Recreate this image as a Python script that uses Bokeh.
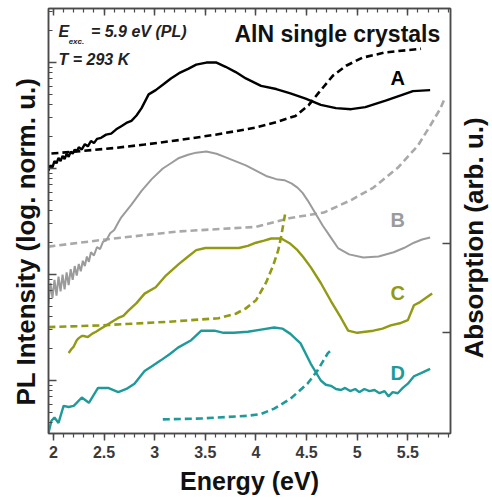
import numpy as np
from bokeh.plotting import figure
from bokeh.layouts import row
from bokeh.models import (Range1d, LinearAxis, FixedTicker, SingleIntervalTicker, Title,
                          LogTicker, ColumnDataSource, LinearScale, CustomJSTickFormatter)
from bokeh.core.properties import value
from bokeh.embed import file_html
from bokeh.resources import INLINE

# ---------------- data ----------------
# PL spectra: energy (eV) and log10 of normalised PL intensity
a_e = [1.95, 1.97, 1.99, 2.01, 2.03, 2.05, 2.07, 2.09, 2.11, 2.13, 2.15, 2.17, 2.19, 2.21, 2.23,
       2.25, 2.28, 2.31, 2.34, 2.37, 2.40, 2.43, 2.47, 2.52, 2.57, 2.62, 2.67, 2.72, 2.77, 2.82,
       2.87, 2.94, 3.01, 3.08, 3.16, 3.24, 3.33, 3.41, 3.51, 3.61, 3.70, 3.80, 3.90, 4.05, 4.20,
       4.34, 4.49, 4.64, 4.79, 4.94, 5.08, 5.28, 5.43, 5.55, 5.72]
a_log = [1.98, 2.03, 2.01, 2.07, 2.05, 2.10, 2.07, 2.12, 2.09, 2.14, 2.11, 2.16, 2.14, 2.18, 2.16,
         2.20, 2.18, 2.23, 2.21, 2.26, 2.24, 2.28, 2.29, 2.32, 2.33, 2.37, 2.40, 2.43, 2.45, 2.50,
         2.57, 2.70, 2.74, 2.79, 2.85, 2.90, 2.94, 2.98, 3.00, 3.00, 2.96, 2.91, 2.85, 2.78, 2.75,
         2.71, 2.66, 2.60, 2.57, 2.56, 2.58, 2.64, 2.69, 2.73, 2.74]

b_e = [1.95, 1.97, 1.99, 2.01, 2.03, 2.05, 2.07, 2.09, 2.11, 2.13, 2.15, 2.17, 2.19, 2.21, 2.23,
       2.25, 2.27, 2.29, 2.31, 2.33, 2.35, 2.37, 2.40, 2.43, 2.46, 2.49, 2.52, 2.56, 2.60, 2.64,
       2.67, 2.77, 2.87, 2.97, 3.08, 3.16, 3.24, 3.33, 3.41, 3.51, 3.61, 3.69, 3.77, 3.90, 4.00,
       4.10, 4.20, 4.28, 4.35, 4.41, 4.46, 4.51, 4.56, 4.61, 4.66, 4.71, 4.76, 4.81, 4.92, 5.06,
       5.21, 5.36, 5.46, 5.56, 5.64, 5.72]
b_log = [0.72, 0.92, 0.78, 0.95, 0.80, 0.98, 0.84, 1.00, 0.86, 1.02, 0.90, 1.05, 0.95, 1.08, 0.99,
         1.10, 1.03, 1.13, 1.08, 1.17, 1.12, 1.21, 1.18, 1.26, 1.24, 1.31, 1.32, 1.39, 1.42, 1.49,
         1.54, 1.66, 1.79, 1.90, 2.00, 2.05, 2.10, 2.13, 2.15, 2.16, 2.14, 2.11, 2.08, 2.03, 1.98,
         1.93, 1.90, 1.89, 1.86, 1.82, 1.77, 1.70, 1.62, 1.54, 1.46, 1.39, 1.32, 1.25, 1.19, 1.16,
         1.17, 1.21, 1.25, 1.30, 1.33, 1.35]

c_e = [2.15, 2.18, 2.20, 2.23, 2.25, 2.28, 2.30, 2.34, 2.38, 2.42, 2.47, 2.52, 2.57, 2.64, 2.69,
       2.74, 2.82, 2.90, 3.01, 3.11, 3.24, 3.33, 3.41, 3.50, 3.58, 3.70, 3.83, 3.92, 4.00, 4.08,
       4.15, 4.25, 4.34, 4.41, 4.47, 4.54, 4.64, 4.74, 4.84, 4.91, 5.00, 5.08, 5.16, 5.25, 5.33,
       5.42, 5.50, 5.56, 5.62, 5.68, 5.74]
c_log = [0.26, 0.30, 0.32, 0.38, 0.40, 0.42, 0.42, 0.41, 0.44, 0.46, 0.49, 0.52, 0.55, 0.59, 0.61,
         0.66, 0.73, 0.82, 0.88, 0.99, 1.10, 1.17, 1.23, 1.25, 1.25, 1.25, 1.25, 1.27, 1.30, 1.32,
         1.34, 1.34, 1.29, 1.23, 1.16, 1.07, 0.92, 0.75, 0.59, 0.47, 0.45, 0.46, 0.47, 0.49, 0.52,
         0.54, 0.57, 0.71, 0.74, 0.78, 0.82]

d_e = [1.95, 1.98, 2.01, 2.05, 2.10, 2.15, 2.20, 2.28, 2.35, 2.44, 2.54, 2.64, 2.72, 2.80, 2.90,
       2.98, 3.06, 3.15, 3.23, 3.36, 3.46, 3.59, 3.68, 3.78, 3.92, 4.05, 4.18, 4.26, 4.34, 4.44,
       4.54, 4.64, 4.69, 4.74, 4.79, 4.84, 4.88, 4.93, 4.98, 5.02, 5.07, 5.12, 5.17, 5.22, 5.27,
       5.31, 5.35, 5.40, 5.45, 5.50, 5.56, 5.63, 5.72]
d_log = [-0.50, -0.38, -0.35, -0.40, -0.24, -0.25, -0.24, -0.16, -0.21, -0.07, -0.07, -0.11, -0.08,
         -0.03, 0.09, 0.14, 0.19, 0.25, 0.31, 0.38, 0.47, 0.47, 0.45, 0.45, 0.46, 0.48, 0.50, 0.49,
         0.44, 0.35, 0.16, 0.00, -0.04, -0.05, -0.08, -0.09, -0.07, -0.10, -0.08, -0.11, -0.08,
         -0.10, -0.09, -0.12, -0.10, -0.15, -0.11, -0.12, -0.07, -0.03, 0.04, 0.07, 0.11]

# Absorption spectra (arb. u., offset)
abs_a_e = [1.98, 2.30, 2.59, 2.90, 3.24, 3.60, 4.00, 4.20, 4.39, 4.52, 4.62, 4.76, 4.89, 5.05, 5.28, 5.63]
abs_a = [3.00, 3.03, 3.06, 3.10, 3.15, 3.21, 3.29, 3.35, 3.42, 3.54, 3.68, 3.87, 3.98, 4.07, 4.13, 4.17]

abs_b_e = [1.95, 2.59, 3.24, 4.00, 4.34, 4.67, 4.94, 5.16, 5.40, 5.60, 5.72, 5.82, 5.87]
abs_b = [1.96, 2.05, 2.13, 2.18, 2.28, 2.34, 2.48, 2.62, 2.84, 3.09, 3.31, 3.50, 3.63]

abs_c_e = [1.95, 2.47, 3.13, 3.63, 3.80, 3.90, 4.00, 4.10, 4.17, 4.22, 4.25, 4.29]
abs_c = [1.06, 1.08, 1.12, 1.16, 1.21, 1.27, 1.36, 1.56, 1.75, 1.92, 2.08, 2.34]

abs_d_e = [3.08, 3.46, 3.92, 4.05, 4.18, 4.34, 4.51, 4.61, 4.71, 4.76]
abs_d = [0.03, 0.04, 0.07, 0.09, 0.15, 0.26, 0.43, 0.58, 0.77, 0.82]

sample_names = ["A", "B", "C", "D"]
abs_ticks = [1, 2, 3]

# ---------------- styles ----------------
FONT = "Liberation Sans"
col_a, col_b, col_b_dash, col_c, col_d = "#000000", "#9b9b9b", "#a9a9a9", "#919a12", "#1f9a9a"
axis_col = "#4a4a4a"

p = figure(width=455, height=500, x_range=Range1d(1.951, 5.921),
           y_range=Range1d(10 ** -0.5, 10 ** 3.51), y_axis_type="log",
           output_backend="svg", toolbar_location=None,
           min_border_left=47, min_border_right=5, min_border_top=8, min_border_bottom=67)
p.grid.visible = False
p.outline_line_color = axis_col
p.outline_line_width = 1.5
p.background_fill_color = "white"
p.border_fill_color = "white"
p.extra_y_ranges = {"abs": Range1d(-0.128, 4.62)}
p.extra_y_scales = {"abs": LinearScale()}

# bottom axis
xa = p.below[0]
xa.ticker = SingleIntervalTicker(interval=0.5, num_minor_ticks=5)
xa.major_tick_in = 0
xa.major_tick_out = 7
xa.minor_tick_in = 0
xa.minor_tick_out = 4
xa.axis_line_color = axis_col
xa.axis_line_width = 1.5
xa.major_tick_line_color = axis_col
xa.minor_tick_line_color = axis_col
xa.major_tick_line_width = 1.5
xa.minor_tick_line_width = 1.2
xa.major_label_text_font = FONT
xa.major_label_text_font_style = "bold"
xa.major_label_text_font_size = "16px"
xa.major_label_text_color = "#3a3a3a"
xa.major_label_standoff = 5
xa.axis_label = "Energy (eV)"
xa.axis_label_text_font = FONT
xa.axis_label_text_font_style = "bold"
xa.axis_label_text_font_size = "25px"
xa.axis_label_text_color = "#111111"
xa.axis_label_standoff = 6

# left log axis (ticks only)
ya = p.left[0]
ya.ticker = LogTicker(num_minor_ticks=10)
ya.formatter = CustomJSTickFormatter(code="return ''")
ya.major_tick_in = 8
ya.major_tick_out = 0
ya.minor_tick_in = 4
ya.minor_tick_out = 0
ya.axis_line_color = axis_col
ya.axis_line_width = 1.5
ya.major_tick_line_color = axis_col
ya.minor_tick_line_color = axis_col
ya.major_tick_line_width = 1.5
ya.minor_tick_line_width = 1.2
ya.major_label_text_font_size = "2px"
ya.major_label_standoff = 0

# left title, starting a little above the frame bottom as in the reference
p.add_layout(Title(text="PL Intensity (log. norm. u.)", align="left", offset=28,
                   text_font=FONT, text_font_style="bold", text_font_size="26px",
                   text_color="#111111", standoff=16), "left")

# top axis (ticks only)
top = LinearAxis(ticker=SingleIntervalTicker(interval=0.5, num_minor_ticks=5),
                 formatter=CustomJSTickFormatter(code="return ''"),
                 major_tick_in=7, major_tick_out=0, minor_tick_in=4, minor_tick_out=0,
                 major_label_text_font_size="2px", major_label_standoff=0,
                 axis_line_color=axis_col, axis_line_width=1.5,
                 major_tick_line_color=axis_col, minor_tick_line_color=axis_col,
                 major_tick_line_width=1.5, minor_tick_line_width=1.2)
p.add_layout(top, "above")

# right axis (absorption, ticks only)
right = LinearAxis(y_range_name="abs", ticker=FixedTicker(ticks=abs_ticks, minor_ticks=[]),
                   formatter=CustomJSTickFormatter(code="return ''"),
                   major_tick_in=8, major_tick_out=0, minor_tick_in=0, minor_tick_out=0,
                   major_label_text_font_size="2px", major_label_standoff=0,
                   axis_line_color=axis_col, axis_line_width=1.5,
                   major_tick_line_color=axis_col, major_tick_line_width=1.5)
p.add_layout(right, "right")

# ---------------- curves ----------------
def pl(vals):
    return np.power(10.0, np.array(vals))

p.line(abs_a_e, abs_a, y_range_name="abs", line_color=col_a, line_width=2.6, line_dash="7 4")
p.line(abs_b_e, abs_b, y_range_name="abs", line_color=col_b_dash, line_width=2.6, line_dash="7 4")
p.line(abs_c_e, abs_c, y_range_name="abs", line_color=col_c, line_width=2.6, line_dash="7 4")
p.line(abs_d_e, abs_d, y_range_name="abs", line_color=col_d, line_width=2.6, line_dash="7 4")

p.line(a_e, pl(a_log), line_color=col_a, line_width=2.4)
p.line(b_e, pl(b_log), line_color=col_b, line_width=2.0)
p.line(c_e, pl(c_log), line_color=col_c, line_width=2.4)
p.line(d_e, pl(d_log), line_color=col_d, line_width=2.4)

# ---------------- texts ----------------
lab_src = ColumnDataSource(dict(x=[5.40] * 4, y=list(np.power(10.0, [2.85, 1.51, 0.83, 0.075])),
                                text=sample_names, color=[col_a, col_b, col_c, col_d]))
p.text(x="x", y="y", text="text", text_color="color", source=lab_src,
       text_font=value(FONT), text_font_style="bold", text_font_size="20px",
       text_align="center", text_baseline="middle")

p.text(x=[2.05], y=[10 ** 3.292], text=["E"], text_font=value(FONT),
       text_font_style="bold italic", text_font_size="16px", text_color="#222222",
       text_baseline="middle")
p.text(x=[2.15], y=[10 ** 3.198], text=["exc."], text_font=value(FONT),
       text_font_style="bold italic", text_font_size="8px", text_color="#222222",
       text_baseline="middle")
p.text(x=[2.37], y=[10 ** 3.292], text=["= 5.9 eV (PL)"], text_font=value(FONT),
       text_font_style="bold italic", text_font_size="16px", text_color="#222222",
       text_baseline="middle")
p.text(x=[2.05], y=[10 ** 3.028], text=["T = 293 K"], text_font=value(FONT),
       text_font_style="bold italic", text_font_size="16px", text_color="#222222",
       text_baseline="middle")
p.text(x=[5.82], y=[10 ** 3.274], text=["AlN single crystals"], text_font=value(FONT),
       text_font_style="bold", text_font_size="23px", text_color="#111111",
       text_align="right", text_baseline="middle")

# narrow strip on the right carrying the absorption title (reads bottom-to-top)
p2 = figure(width=37, height=500, output_backend="svg", toolbar_location=None,
            x_axis_location=None, y_axis_location=None,
            min_border_left=30, min_border_right=0, min_border_top=8, min_border_bottom=67)
p2.outline_line_color = None
p2.background_fill_color = "white"
p2.border_fill_color = "white"
p2.add_layout(Title(text="Absorption (arb. u.)", align="left", offset=75,
                    text_font=FONT, text_font_style="bold", text_font_size="26px",
                    text_color="#111111", standoff=2), "left")

layout = row(p, p2, spacing=0)
open("out.html", "w").write(file_html(layout, INLINE))
